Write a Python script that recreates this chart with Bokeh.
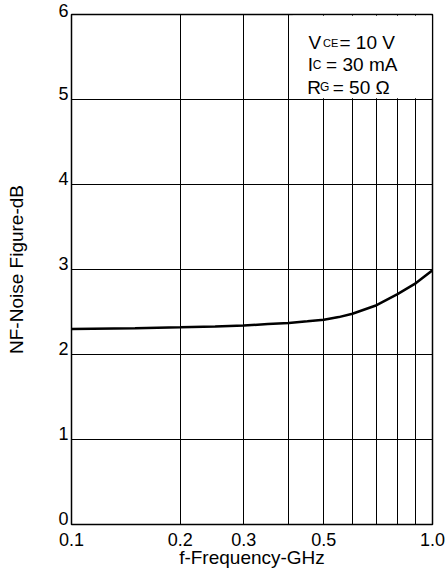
from bokeh.plotting import figure
from bokeh.models import FixedTicker, ColumnDataSource, CustomJSTickFormatter, BoxAnnotation
from bokeh.core.properties import value
from bokeh.embed import file_html
from bokeh.resources import INLINE

# ---- data ----
freq_ghz = [0.1, 0.15, 0.2, 0.25, 0.3, 0.35, 0.4, 0.45, 0.5, 0.55, 0.6, 0.7, 0.8, 0.9, 1.0]
nf_db = [2.30, 2.31, 2.32, 2.33, 2.34, 2.36, 2.37, 2.39, 2.41, 2.44, 2.48, 2.58, 2.71, 2.84, 2.99]

x_tick_values = [0.1, 0.2, 0.3, 0.5, 1.0]
x_grid_values = [0.1, 0.2, 0.3, 0.4, 0.5, 0.6, 0.7, 0.8, 0.9, 1.0]
y_tick_values = [0, 1, 2, 3, 4, 5, 6]

cond_symbols = ["V", "I", "R"]
cond_subscripts = ["CE", "C", "G"]
cond_values = ["= 10 V", "= 30 mA", "= 50 \u03a9"]

FONT = "Liberation Sans"

p = figure(
    x_axis_type="log", x_range=(0.1, 1.0), y_range=(0, 6),
    frame_width=361, frame_height=510,
    min_border_left=71, min_border_right=16, min_border_top=14, min_border_bottom=56,
    output_backend="svg", toolbar_location=None,
    x_axis_label="f-Frequency-GHz", y_axis_label="NF-Noise Figure-dB",
)
p.background_fill_color = "white"
p.border_fill_color = "white"
p.outline_line_color = "black"
p.outline_line_width = 1.5
p.outline_line_alpha = 1.0

# grid
p.xgrid.ticker = FixedTicker(ticks=x_grid_values, minor_ticks=[])
p.ygrid.ticker = FixedTicker(ticks=y_tick_values, minor_ticks=[])
for g in (p.xgrid, p.ygrid):
    g.grid_line_color = "black"
    g.grid_line_alpha = 1.0
    g.grid_line_width = 1

# axes
p.xaxis.ticker = FixedTicker(ticks=x_tick_values, minor_ticks=[])
p.xaxis.formatter = CustomJSTickFormatter(code="return tick.toFixed(1);")
p.yaxis.ticker = FixedTicker(ticks=y_tick_values, minor_ticks=[])
# trailing empty line lifts each y label so its baseline sits near the grid line
p.yaxis.formatter = CustomJSTickFormatter(code="return tick.toFixed(0) + '\\n';")
p.yaxis.major_label_text_line_height = 0.6
for ax in (p.xaxis, p.yaxis):
    ax.axis_line_color = None
    ax.major_tick_line_color = None
    ax.minor_tick_line_color = None
    ax.major_tick_in = 0
    ax.major_tick_out = 0
    ax.minor_tick_in = 0
    ax.minor_tick_out = 0
    ax.major_label_text_font = FONT
    ax.major_label_text_font_size = "18px"
    ax.major_label_text_color = "black"
    ax.axis_label_text_font = FONT
    ax.axis_label_text_font_size = "19px"
    ax.axis_label_text_font_style = "normal"
    ax.axis_label_text_color = "black"
p.xaxis.major_label_standoff = 8
p.xaxis.axis_label_standoff = -2
p.yaxis.major_label_standoff = 3
p.yaxis.axis_label_standoff = 28

# white box behind the conditions text
box = BoxAnnotation(left=0.41, right=0.995, bottom=5.015, top=5.985,
                    fill_color="white", fill_alpha=1.0, line_color=None, level="underlay")
p.add_layout(box)

# curve
p.line(freq_ghz, nf_db, line_width=2.5, line_color="black")

# conditions text (anchored at top-right corner of the frame, offsets in px)
n = len(cond_symbols)
main_src = ColumnDataSource(dict(
    x=[1.0] * n, y=[6.0] * n, text=cond_symbols,
    dx=[-124.0, -124.8, -125.2], dy=[28.3, 50.0, 72.7],
    size=["19px"] * n,
))
sub_src = ColumnDataSource(dict(
    x=[1.0] * n, y=[6.0] * n, text=cond_subscripts,
    dx=[-109.5, -119.7, -112.6], dy=[28.3, 50.0, 72.7],
    size=["11px", "12px", "12px"],
))
val_src = ColumnDataSource(dict(
    x=[1.0] * n, y=[6.0] * n, text=cond_values,
    dx=[-93.0, -106.4, -99.8], dy=[28.3, 50.0, 72.7],
    size=["19px"] * n,
))
for src in (main_src, sub_src, val_src):
    p.text(x="x", y="y", text="text", x_offset="dx", y_offset="dy", source=src,
           text_font=value(FONT), text_font_size="size", text_color="black",
           text_align="left", text_baseline="alphabetic")

open("out.html", "w").write(file_html(p, INLINE))
